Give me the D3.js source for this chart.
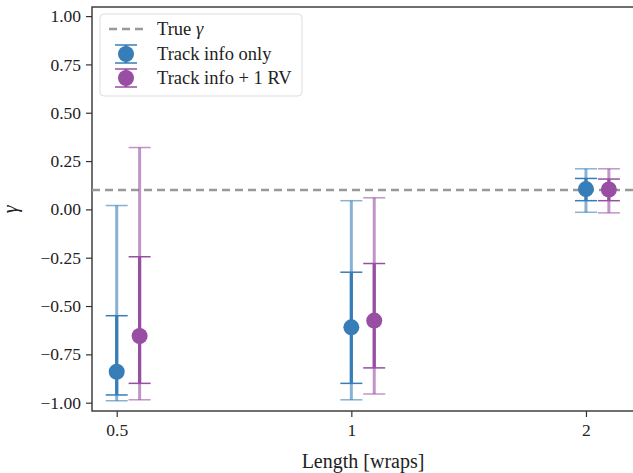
<!DOCTYPE html>
<html>
<head>
<meta charset="utf-8">
<script src="https://cdn.jsdelivr.net/npm/d3@7"></script>
<style>
  body { margin: 0; background: #fff; }
  svg text { font-family: "Liberation Serif", "DejaVu Serif", serif; fill: #222; }
</style>
</head>
<body>
<svg id="chart" width="633" height="473"></svg>
<script>
// track lengths in wraps
var lengths = [0.5, 1, 2];
var trueGamma = 0.1;

// Track info only: median, 1-sigma and 2-sigma bounds
var trackMid = [-0.84, -0.61, 0.105];
var trackLo1 = [-0.96, -0.90, 0.045];
var trackHi1 = [-0.55, -0.325, 0.16];
var trackLo2 = [-0.99, -0.985, -0.015];
var trackHi2 = [0.02, 0.045, 0.21];

// Track info + 1 RV
var rvMid = [-0.655, -0.575, 0.103];
var rvLo1 = [-0.90, -0.82, 0.045];
var rvHi1 = [-0.245, -0.28, 0.157];
var rvLo2 = [-0.985, -0.955, -0.018];
var rvHi2 = [0.32, 0.06, 0.21];

var yTicks = [-1, -0.75, -0.5, -0.25, 0, 0.25, 0.5, 0.75, 1];

var series = [
  { name: "Track info only", color: "#377eb8", shift: 1,
    mid: trackMid, lo1: trackLo1, hi1: trackHi1, lo2: trackLo2, hi2: trackHi2 },
  { name: "Track info + 1 RV", color: "#984ea3", shift: 1.07,
    mid: rvMid, lo1: rvLo1, hi1: rvHi1, lo2: rvLo2, hi2: rvHi2 }
];

var margin = { left: 92, top: 7, right: 0, bottom: 62 };
var width = 634 - margin.left, height = 411 - margin.top;

var svg = d3.select("#chart");
var g = svg.append("g").attr("transform", "translate(" + margin.left + "," + margin.top + ")");

var x = d3.scaleLog().base(2).domain([0.4648, 2.305]).range([0, width]);
var y = d3.scaleLinear().domain([-1.043, 1.047]).range([height, 0]);

var fmt = function(v) { return d3.format(".2f")(v).replace("-", "\u2212"); };

// axes
var yAxis = g.append("g").call(d3.axisLeft(y).tickValues(yTicks).tickFormat(fmt).tickSize(6).tickPadding(5));
var xAxis = g.append("g").attr("transform", "translate(0," + height + ")")
  .call(d3.axisBottom(x).tickValues(lengths).tickFormat(function(d) { return String(d); }).tickSize(6).tickPadding(7));
[yAxis, xAxis].forEach(function(a) {
  a.select(".domain").remove();
  a.selectAll(".tick line").attr("stroke", "#333").attr("stroke-width", 1.2);
  a.selectAll(".tick text").attr("font-size", 17.5).attr("fill", "#222");
});

// frame
g.append("rect").attr("width", width).attr("height", height)
  .attr("fill", "none").attr("stroke", "#333").attr("stroke-width", 1.4);

// true value line
g.append("line")
  .attr("x1", 0).attr("x2", width)
  .attr("y1", y(trueGamma)).attr("y2", y(trueGamma))
  .attr("stroke", "#999").attr("stroke-width", 2.5).attr("stroke-dasharray", "8,5");

// error bars: outer (2-sigma) light, inner (1-sigma) solid
var capW = 11;
series.forEach(function(s) {
  var grp = g.append("g");
  lengths.forEach(function(L, i) {
    var cx = x(L * s.shift);
    [[s.lo2[i], s.hi2[i], 0.6, 3], [s.lo1[i], s.hi1[i], 1, 3.2]].forEach(function(b) {
      var e = grp.append("g").attr("stroke", s.color).attr("stroke-opacity", b[2]);
      e.append("line").attr("x1", cx).attr("x2", cx).attr("y1", y(b[0])).attr("y2", y(b[1])).attr("stroke-width", b[3]);
      [b[0], b[1]].forEach(function(v) {
        e.append("line").attr("x1", cx - capW).attr("x2", cx + capW)
          .attr("y1", y(v)).attr("y2", y(v)).attr("stroke-width", 1.5);
      });
    });
    grp.append("circle").attr("cx", cx).attr("cy", y(s.mid[i])).attr("r", 8).attr("fill", s.color);
  });
});

// axis labels
svg.append("text").attr("x", margin.left + width / 2).attr("y", 468)
  .attr("text-anchor", "middle").attr("font-size", 20).text("Length [wraps]");
svg.append("text").attr("transform", "translate(17," + (margin.top + y(0)) + ") rotate(-90)")
  .attr("text-anchor", "middle").attr("font-size", 20).attr("font-style", "italic").text("γ");

// legend
var lg = g.append("g").attr("transform", "translate(8,7)");
lg.append("rect").attr("width", 202).attr("height", 82).attr("rx", 4)
  .attr("fill", "#fff").attr("fill-opacity", 0.8).attr("stroke", "#ddd").attr("stroke-width", 1);
lg.append("line").attr("x1", 9).attr("x2", 43).attr("y1", 15).attr("y2", 15)
  .attr("stroke", "#999").attr("stroke-width", 2.5).attr("stroke-dasharray", "8,5");
lg.append("text").attr("x", 57).attr("y", 21).attr("font-size", 18.5)
  .html('True <tspan font-style="italic">γ</tspan>');
series.forEach(function(s, k) {
  var cy = 40 + k * 24;
  var it = lg.append("g").attr("stroke", s.color);
  it.append("line").attr("x1", 26).attr("x2", 26).attr("y1", cy - 9).attr("y2", cy + 9).attr("stroke-width", 2.6);
  [cy - 9, cy + 9].forEach(function(v) {
    it.append("line").attr("x1", 15).attr("x2", 37).attr("y1", v).attr("y2", v).attr("stroke-width", 1.5);
  });
  lg.append("circle").attr("cx", 26).attr("cy", cy).attr("r", 8).attr("fill", s.color);
  lg.append("text").attr("x", 57).attr("y", cy + 6).attr("font-size", 18.5).text(s.name);
});
</script>
</body>
</html>
